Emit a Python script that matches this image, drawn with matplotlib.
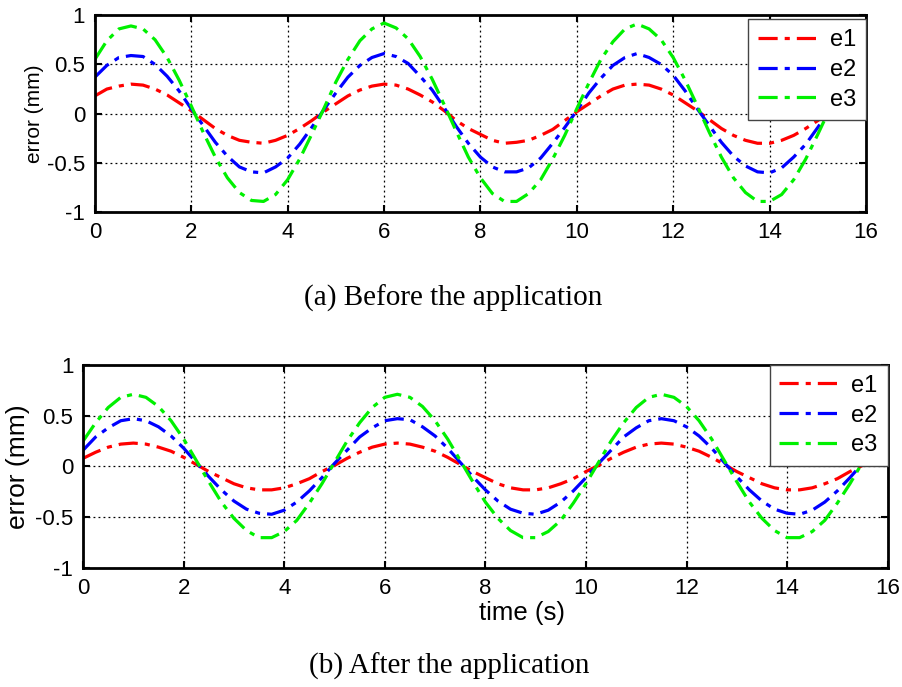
import numpy as np
import matplotlib
matplotlib.use('Agg')
import matplotlib.pyplot as plt

# sample times (s)
t = np.arange(0, 16.01, 0.25)

# (a) before the application
before_e1 = [0.18, 0.25, 0.28, 0.30, 0.29, 0.25, 0.19, 0.11, 0.03, -0.06, -0.15, -0.22, -0.27, -0.29, -0.30, -0.27, -0.22, -0.15, -0.07, 0.02, 0.10,
             0.18, 0.24, 0.28, 0.30, 0.29, 0.25, 0.19, 0.12, 0.03, -0.07, -0.15, -0.21, -0.27, -0.30, -0.29, -0.27, -0.22, -0.16, -0.07, 0.02, 0.10,
             0.18, 0.25, 0.29, 0.30, 0.29, 0.25, 0.19, 0.11, 0.03, -0.06, -0.15, -0.22, -0.27, -0.30, -0.30, -0.27, -0.22, -0.15, -0.07, 0.02, 0.10,
             0.18, 0.24]
before_e2 = [0.37, 0.49, 0.57, 0.59, 0.58, 0.50, 0.38, 0.23, 0.05, -0.12, -0.29, -0.43, -0.54, -0.59, -0.60, -0.54, -0.45, -0.31, -0.14, 0.04, 0.21,
             0.37, 0.49, 0.57, 0.61, 0.58, 0.51, 0.38, 0.24, 0.06, -0.13, -0.30, -0.44, -0.54, -0.59, -0.59, -0.55, -0.45, -0.30, -0.14, 0.03, 0.21,
             0.36, 0.49, 0.57, 0.61, 0.57, 0.50, 0.39, 0.23, 0.05, -0.12, -0.29, -0.43, -0.53, -0.59, -0.60, -0.55, -0.44, -0.31, -0.14, 0.04, 0.21,
             0.37, 0.49]
before_e3 = [0.55, 0.74, 0.86, 0.89, 0.86, 0.75, 0.57, 0.34, 0.08, -0.19, -0.44, -0.65, -0.80, -0.88, -0.89, -0.82, -0.67, -0.46, -0.21, 0.05, 0.32,
             0.55, 0.74, 0.86, 0.92, 0.87, 0.76, 0.58, 0.35, 0.09, -0.18, -0.44, -0.65, -0.81, -0.89, -0.89, -0.81, -0.67, -0.46, -0.22, 0.05, 0.31,
             0.55, 0.73, 0.86, 0.91, 0.86, 0.75, 0.57, 0.34, 0.08, -0.19, -0.44, -0.65, -0.80, -0.89, -0.89, -0.82, -0.67, -0.46, -0.21, 0.05, 0.31,
             0.55, 0.73]

# (b) after the application
after_e1 = [0.08, 0.14, 0.19, 0.22, 0.23, 0.22, 0.19, 0.15, 0.09, 0.02, -0.05, -0.11, -0.17, -0.21, -0.23, -0.23, -0.21, -0.17, -0.12, -0.05, 0.01,
            0.08, 0.14, 0.19, 0.22, 0.23, 0.22, 0.19, 0.15, 0.09, 0.02, -0.05, -0.11, -0.17, -0.21, -0.23, -0.23, -0.21, -0.17, -0.12, -0.05, 0.01,
            0.08, 0.14, 0.19, 0.22, 0.23, 0.22, 0.19, 0.15, 0.09, 0.02, -0.05, -0.11, -0.17, -0.21, -0.23, -0.23, -0.21, -0.17, -0.12, -0.05, 0.01,
            0.08, 0.14]
after_e2 = [0.16, 0.29, 0.38, 0.45, 0.47, 0.45, 0.39, 0.30, 0.18, 0.04, -0.10, -0.23, -0.34, -0.42, -0.46, -0.47, -0.43, -0.35, -0.24, -0.11, 0.03,
            0.16, 0.29, 0.38, 0.45, 0.47, 0.46, 0.39, 0.30, 0.18, 0.04, -0.10, -0.23, -0.34, -0.42, -0.46, -0.47, -0.43, -0.35, -0.24, -0.11, 0.03,
            0.16, 0.29, 0.38, 0.45, 0.47, 0.45, 0.39, 0.30, 0.18, 0.04, -0.10, -0.23, -0.34, -0.42, -0.46, -0.47, -0.43, -0.35, -0.24, -0.11, 0.03,
            0.16, 0.29]
after_e3 = [0.25, 0.43, 0.58, 0.68, 0.71, 0.68, 0.59, 0.45, 0.27, 0.06, -0.15, -0.35, -0.51, -0.63, -0.70, -0.70, -0.64, -0.53, -0.36, -0.17, 0.04,
            0.25, 0.43, 0.58, 0.68, 0.71, 0.68, 0.59, 0.45, 0.27, 0.06, -0.15, -0.35, -0.51, -0.63, -0.70, -0.70, -0.64, -0.53, -0.36, -0.17, 0.04,
            0.25, 0.43, 0.58, 0.68, 0.71, 0.68, 0.59, 0.45, 0.27, 0.06, -0.15, -0.35, -0.51, -0.63, -0.70, -0.70, -0.64, -0.53, -0.36, -0.17, 0.04,
            0.25, 0.43]

labels = ['e1', 'e2', 'e3']
colors = ['#ff0000', '#0000ff', '#00f000']
xticks = [0, 2, 4, 6, 8, 10, 12, 14, 16]
yticks = [-1, -0.5, 0, 0.5, 1]
ytick_labels = ['-1', '-0.5', '0', '0.5', '1']

plt.rcParams['font.family'] = ['Liberation Sans', 'DejaVu Sans']
tick_size = 16

fig = plt.figure(figsize=(9.03, 6.87), dpi=100)
ax1 = fig.add_axes([0.105, 0.691, 0.854, 0.287])
ax2 = fig.add_axes([0.092, 0.173, 0.891, 0.296])


def style_axes(ax, series, ylabel_size, leg_y, ylabel_pad):
    for index, y in enumerate(series):
        ax.plot(t, y, color=colors[index], label=labels[index], linewidth=2.3,
                linestyle=(0, (6, 2.2, 1.6, 2.2)))
    ax.set_xlim(0, 16)
    ax.set_ylim(-1, 1)
    ax.set_xticks(xticks)
    ax.set_yticks(yticks)
    ax.set_yticklabels(ytick_labels)
    ax.tick_params(direction='in', length=5, width=1.5, top=True, right=True,
                   labelsize=tick_size, pad=7)
    for sp in ax.spines.values():
        sp.set_linewidth(2)
    ax.grid(True, linestyle=(0, (1.5, 2.5)), color='black', linewidth=0.9)
    ax.set_ylabel('error (mm)', fontsize=ylabel_size, labelpad=ylabel_pad)
    leg = ax.legend(loc='upper right', bbox_to_anchor=(1.0, leg_y), borderaxespad=0,
                    fontsize=17, handlelength=2.7, fancybox=False,
                    framealpha=1, edgecolor='#444444', labelspacing=0.33,
                    borderpad=0.42, handletextpad=0.35)
    leg.get_frame().set_linewidth(1.0)


style_axes(ax1, [before_e1, before_e2, before_e3], 15, 0.98, 2)
style_axes(ax2, [after_e1, after_e2, after_e3], 19, 1.0, 4)
fig.text(522 / 903, 1 - 613 / 687, 'time (s)', ha='center', va='center', fontsize=18.5)

fig.text(0.502, 0.566, '(a) Before the application', ha='center', va='center',
         fontsize=21, family='Liberation Serif')
fig.text(0.498, 0.030, '(b) After the application', ha='center', va='center',
         fontsize=21, family='Liberation Serif')

fig.savefig('out.png', dpi=100)
